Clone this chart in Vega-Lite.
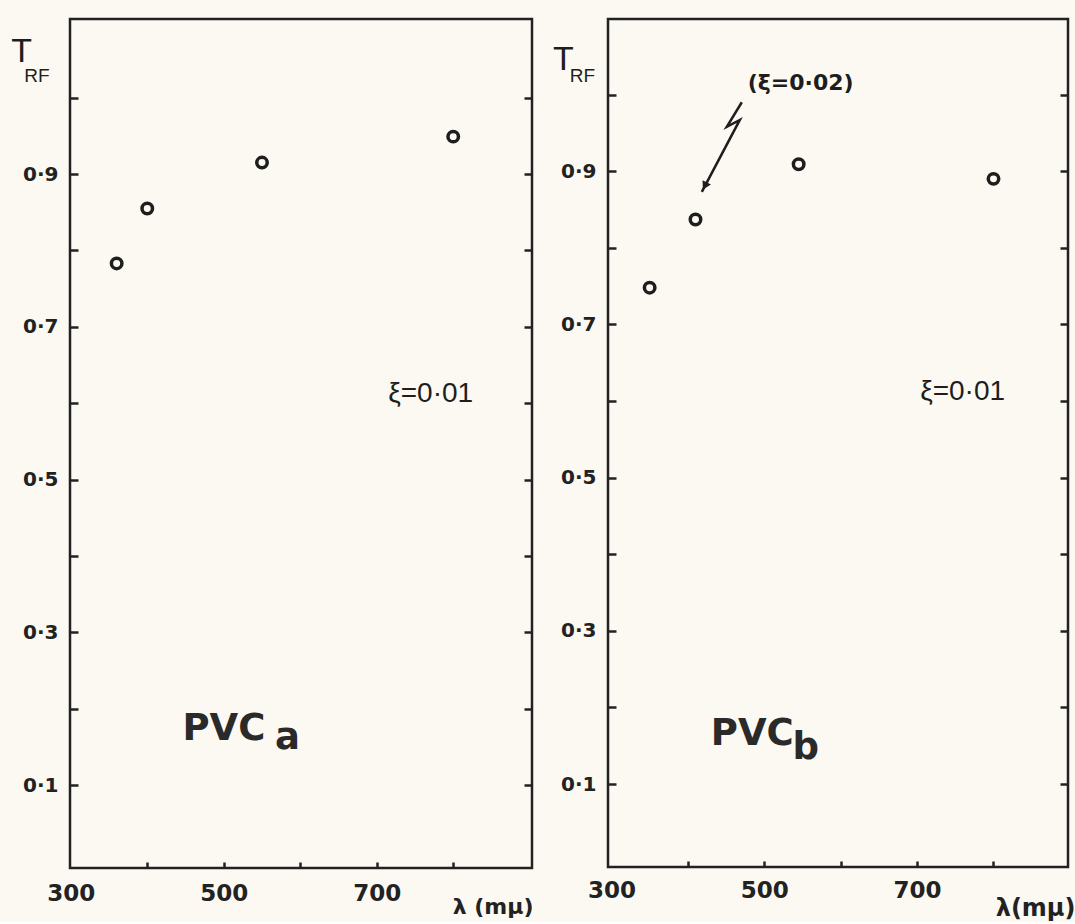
{
  "$schema": "https://vega.github.io/schema/vega-lite/v6.json",
  "background": "#fbf9f1",
  "padding": {"left": 10, "top": 17, "right": 0, "bottom": 0},
  "autosize": {"type": "pad"},
  "spacing": 16,
  "config": {
    "view": {"stroke": "#222222", "strokeWidth": 2.5},
    "font": "DejaVu Sans",
    "axis": {"grid": false, "domain": false, "labelFlush": false, "labelColor": "#222222", "tickColor": "#222222", "labelFont": "DejaVu Sans", "labelFontWeight": "bold", "titleColor": "#222222"}
  },
  "datasets": {
    "points": [
      {"panel": "a", "x": 360, "y": 0.783},
      {"panel": "a", "x": 400, "y": 0.855},
      {"panel": "a", "x": 550, "y": 0.915},
      {"panel": "a", "x": 800, "y": 0.949},
      {"panel": "b", "x": 350, "y": 0.748},
      {"panel": "b", "x": 410, "y": 0.837},
      {"panel": "b", "x": 545, "y": 0.909},
      {"panel": "b", "x": 800, "y": 0.890}
    ],
    "notes": [
      {"panel": "a", "role": "T", "x": 222.2, "y": 1.0467, "label": "T"},
      {"panel": "a", "role": "RF", "x": 239.2, "y": 1.0206, "label": "RF"},
      {"panel": "a", "role": "PVC", "x": 446, "y": 0.159, "label": "PVC"},
      {"panel": "a", "role": "sub", "x": 567, "y": 0.147, "label": "a"},
      {"panel": "a", "role": "xi", "x": 715, "y": 0.6015, "label": "ξ=0·01"},
      {"panel": "b", "role": "T", "x": 223.5, "y": 1.032, "label": "T"},
      {"panel": "b", "role": "RF", "x": 245.6, "y": 1.0165, "label": "RF"},
      {"panel": "b", "role": "PVC", "x": 430, "y": 0.151, "label": "PVC"},
      {"panel": "b", "role": "sub", "x": 537, "y": 0.1326, "label": "b"},
      {"panel": "b", "role": "xi", "x": 704, "y": 0.601, "label": "ξ=0·01"},
      {"panel": "b", "role": "xi2", "x": 478.4, "y": 1.006, "label": "(ξ=0·02)"}
    ],
    "arrow": [
      {"seq": 1, "x": 470.6, "y": 0.990},
      {"seq": 2, "x": 451.0, "y": 0.958},
      {"seq": 3, "x": 468.0, "y": 0.967},
      {"seq": 4, "x": 418.3, "y": 0.873}
    ],
    "arrowhead": [
      {"x": 422.2, "y": 0.8807}
    ]
  },
  "hconcat": [
    {
      "width": 462,
      "height": 849,
      "layer": [
        {
          "data": {"name": "points"},
          "transform": [{"filter": "datum.panel === 'a'"}],
          "mark": {"type": "point", "shape": "circle", "filled": false, "size": 110, "strokeWidth": 3.5, "color": "#1e1e1e", "opacity": 1},
          "encoding": {
            "x": {"field": "x", "type": "quantitative", "scale": {"domain": [299, 903], "nice": false, "zero": false},
              "axis": {"orient": "bottom", "values": [300, 400, 500, 600, 700, 800], "format": "d",
                "labelExpr": "datum.value % 200 === 100 ? datum.label : ''",
                "labelFlush": false,
                "tickSize": -6, "tickWidth": 2.5,
                "tickOpacity": {"condition": {"test": "datum.value === 300", "value": 0}, "value": 1},
                "labelFontSize": 23, "labelPadding": 20,
                "title": "λ (mμ)", "titleFont": "DejaVu Sans", "titleFontWeight": "bold", "titleFontSize": 22,
                "titleAlign": "right", "titleBaseline": "alphabetic", "titleX": 463, "titleY": 45}},
            "y": {"field": "y", "type": "quantitative", "scale": {"domain": [-0.0085, 1.103], "nice": false, "zero": false},
              "axis": {"orient": "left", "values": [0.1, 0.2, 0.3, 0.4, 0.5, 0.6, 0.7, 0.8, 0.9, 1.0], "format": ".1f",
                "labelExpr": "indexof([1,3,5,7,9], round(datum.value*10)) >= 0 ? replace(datum.label, '.', '·') : ''",
                "tickSize": -8, "tickWidth": 2.5, "labelFontSize": 20, "labelPadding": 20, "title": null}}
          }
        },
        {
          "data": {"name": "notes"},
          "transform": [{"filter": "datum.panel === 'a' && datum.role === 'xi'"}],
          "mark": {"type": "text", "align": "left", "baseline": "alphabetic", "font": "Liberation Sans", "fontSize": 28, "color": "#1e1e1e"},
          "encoding": {
            "x": {"field": "x", "type": "quantitative", "scale": {"domain": [299, 903], "nice": false, "zero": false}},
            "y": {"field": "y", "type": "quantitative", "scale": {"domain": [-0.0085, 1.103], "nice": false, "zero": false},
              "axis": {"orient": "right", "values": [0.1, 0.2, 0.3, 0.4, 0.5, 0.6, 0.7, 0.8, 0.9, 1.0], "labels": false, "tickSize": -8, "tickWidth": 2.5, "title": null}},
            "text": {"field": "label"}
          }
        },
        {
          "data": {"name": "notes"},
          "transform": [{"filter": "datum.panel === 'a' && datum.role === 'T'"}],
          "mark": {"type": "text", "align": "left", "baseline": "alphabetic", "font": "Liberation Sans", "fontSize": 34, "color": "#1e1e1e"},
          "encoding": {
            "x": {"field": "x", "type": "quantitative", "scale": {"domain": [299, 903], "nice": false, "zero": false}},
            "y": {"field": "y", "type": "quantitative", "scale": {"domain": [-0.0085, 1.103], "nice": false, "zero": false}, "axis": null},
            "text": {"field": "label"}
          }
        },
        {
          "data": {"name": "notes"},
          "transform": [{"filter": "datum.panel === 'a' && datum.role === 'RF'"}],
          "mark": {"type": "text", "align": "left", "baseline": "alphabetic", "font": "Liberation Sans", "fontSize": 19, "color": "#1e1e1e"},
          "encoding": {
            "x": {"field": "x", "type": "quantitative", "scale": {"domain": [299, 903], "nice": false, "zero": false}},
            "y": {"field": "y", "type": "quantitative", "scale": {"domain": [-0.0085, 1.103], "nice": false, "zero": false}, "axis": null},
            "text": {"field": "label"}
          }
        },
        {
          "data": {"name": "notes"},
          "transform": [{"filter": "datum.panel === 'a' && (datum.role === 'PVC' || datum.role === 'sub')"}],
          "mark": {"type": "text", "align": "left", "baseline": "alphabetic", "font": "DejaVu Sans", "fontWeight": "bold", "fontSize": 37, "color": "#2a2a2a"},
          "encoding": {
            "x": {"field": "x", "type": "quantitative", "scale": {"domain": [299, 903], "nice": false, "zero": false}},
            "y": {"field": "y", "type": "quantitative", "scale": {"domain": [-0.0085, 1.103], "nice": false, "zero": false}, "axis": null},
            "text": {"field": "label"}
          }
        }
      ],
      "resolve": {"axis": {"y": "independent"}}
    },
    {
      "width": 460,
      "height": 848,
      "layer": [
        {
          "data": {"name": "points"},
          "transform": [{"filter": "datum.panel === 'b'"}],
          "mark": {"type": "point", "shape": "circle", "filled": false, "size": 110, "strokeWidth": 3.5, "color": "#1e1e1e", "opacity": 1},
          "encoding": {
            "x": {"field": "x", "type": "quantitative", "scale": {"domain": [295.5, 897.5], "nice": false, "zero": false},
              "axis": {"orient": "bottom", "values": [300, 400, 500, 600, 700, 800], "format": "d",
                "labelExpr": "datum.value % 200 === 100 ? datum.label : ''",
                "labelFlush": false,
                "tickSize": -6, "tickWidth": 2.5,
                "tickOpacity": {"condition": {"test": "datum.value === 300", "value": 0}, "value": 1},
                "labelFontSize": 23, "labelPadding": 18,
                "title": "λ(mμ)", "titleFont": "DejaVu Sans", "titleFontWeight": "bold", "titleFontSize": 24,
                "titleAlign": "right", "titleBaseline": "alphabetic", "titleX": 467, "titleY": 48}},
            "y": {"field": "y", "type": "quantitative", "scale": {"domain": [-0.0083, 1.0987], "nice": false, "zero": false},
              "axis": {"orient": "left", "values": [0.1, 0.2, 0.3, 0.4, 0.5, 0.6, 0.7, 0.8, 0.9, 1.0], "format": ".1f",
                "labelExpr": "indexof([1,3,5,7,9], round(datum.value*10)) >= 0 ? replace(datum.label, '.', '·') : ''",
                "tickSize": -8, "tickWidth": 2.5, "labelFontSize": 20, "labelPadding": 20, "title": null}}
          }
        },
        {
          "data": {"name": "notes"},
          "transform": [{"filter": "datum.panel === 'b' && datum.role === 'xi'"}],
          "mark": {"type": "text", "align": "left", "baseline": "alphabetic", "font": "Liberation Sans", "fontSize": 28, "color": "#1e1e1e"},
          "encoding": {
            "x": {"field": "x", "type": "quantitative", "scale": {"domain": [295.5, 897.5], "nice": false, "zero": false}},
            "y": {"field": "y", "type": "quantitative", "scale": {"domain": [-0.0083, 1.0987], "nice": false, "zero": false},
              "axis": {"orient": "right", "values": [0.1, 0.2, 0.3, 0.4, 0.5, 0.6, 0.7, 0.8, 0.9, 1.0], "labels": false, "tickSize": -8, "tickWidth": 2.5, "title": null}},
            "text": {"field": "label"}
          }
        },
        {
          "data": {"name": "notes"},
          "transform": [{"filter": "datum.panel === 'b' && datum.role === 'T'"}],
          "mark": {"type": "text", "align": "left", "baseline": "alphabetic", "font": "Liberation Sans", "fontSize": 34, "color": "#1e1e1e"},
          "encoding": {
            "x": {"field": "x", "type": "quantitative", "scale": {"domain": [295.5, 897.5], "nice": false, "zero": false}},
            "y": {"field": "y", "type": "quantitative", "scale": {"domain": [-0.0083, 1.0987], "nice": false, "zero": false}, "axis": null},
            "text": {"field": "label"}
          }
        },
        {
          "data": {"name": "notes"},
          "transform": [{"filter": "datum.panel === 'b' && datum.role === 'RF'"}],
          "mark": {"type": "text", "align": "left", "baseline": "alphabetic", "font": "Liberation Sans", "fontSize": 19, "color": "#1e1e1e"},
          "encoding": {
            "x": {"field": "x", "type": "quantitative", "scale": {"domain": [295.5, 897.5], "nice": false, "zero": false}},
            "y": {"field": "y", "type": "quantitative", "scale": {"domain": [-0.0083, 1.0987], "nice": false, "zero": false}, "axis": null},
            "text": {"field": "label"}
          }
        },
        {
          "data": {"name": "notes"},
          "transform": [{"filter": "datum.panel === 'b' && (datum.role === 'PVC' || datum.role === 'sub')"}],
          "mark": {"type": "text", "align": "left", "baseline": "alphabetic", "font": "DejaVu Sans", "fontWeight": "bold", "fontSize": 37, "color": "#2a2a2a"},
          "encoding": {
            "x": {"field": "x", "type": "quantitative", "scale": {"domain": [295.5, 897.5], "nice": false, "zero": false}},
            "y": {"field": "y", "type": "quantitative", "scale": {"domain": [-0.0083, 1.0987], "nice": false, "zero": false}, "axis": null},
            "text": {"field": "label"}
          }
        },
        {
          "data": {"name": "notes"},
          "transform": [{"filter": "datum.panel === 'b' && datum.role === 'xi2'"}],
          "mark": {"type": "text", "align": "left", "baseline": "alphabetic", "font": "DejaVu Sans", "fontWeight": "bold", "fontSize": 22, "color": "#1e1e1e"},
          "encoding": {
            "x": {"field": "x", "type": "quantitative", "scale": {"domain": [295.5, 897.5], "nice": false, "zero": false}},
            "y": {"field": "y", "type": "quantitative", "scale": {"domain": [-0.0083, 1.0987], "nice": false, "zero": false}, "axis": null},
            "text": {"field": "label"}
          }
        },
        {
          "data": {"name": "arrow"},
          "mark": {"type": "line", "color": "#1e1e1e", "strokeWidth": 2.5, "strokeJoin": "miter"},
          "encoding": {
            "x": {"field": "x", "type": "quantitative", "scale": {"domain": [295.5, 897.5], "nice": false, "zero": false}},
            "y": {"field": "y", "type": "quantitative", "scale": {"domain": [-0.0083, 1.0987], "nice": false, "zero": false}, "axis": null},
            "order": {"field": "seq", "type": "quantitative"}
          }
        },
        {
          "data": {"name": "arrowhead"},
          "mark": {"type": "point", "shape": "triangle-down", "filled": true, "size": 90, "angle": 28, "color": "#1e1e1e", "opacity": 1},
          "encoding": {
            "x": {"field": "x", "type": "quantitative", "scale": {"domain": [295.5, 897.5], "nice": false, "zero": false}},
            "y": {"field": "y", "type": "quantitative", "scale": {"domain": [-0.0083, 1.0987], "nice": false, "zero": false}, "axis": null}
          }
        }
      ],
      "resolve": {"axis": {"y": "independent"}}
    }
  ]
}
